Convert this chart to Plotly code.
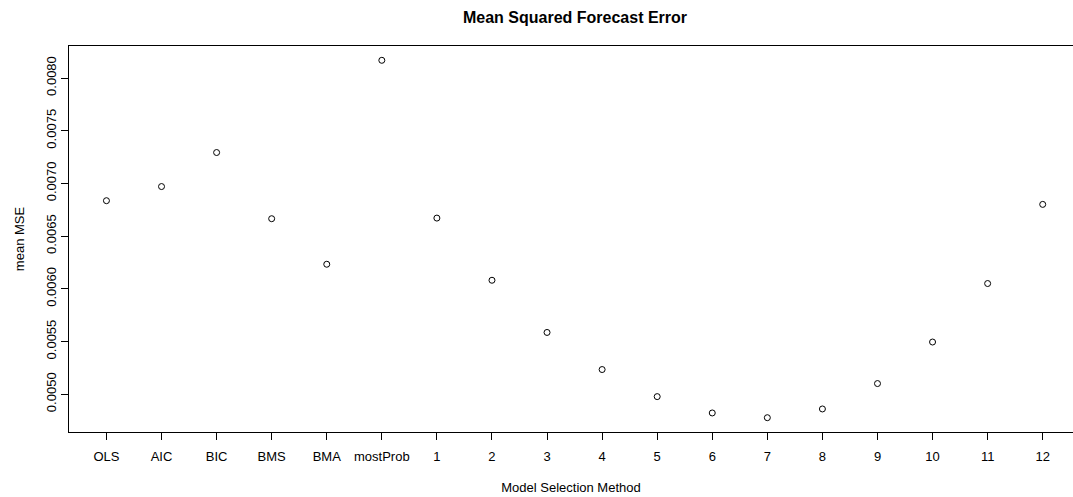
import plotly.graph_objects as go

# Model selection methods along the x axis
methods = ["OLS", "AIC", "BIC", "BMS", "BMA", "mostProb",
           "1", "2", "3", "4", "5", "6", "7", "8", "9", "10", "11", "12"]

# Mean squared forecast error for each method
mean_mse = [0.006836, 0.006970, 0.007293, 0.006665, 0.006233, 0.008168,
            0.006671, 0.006081, 0.005586, 0.005234, 0.004977, 0.004822,
            0.004777, 0.004860, 0.005101, 0.005495, 0.006050, 0.006801]

y_ticks = [0.0050, 0.0055, 0.0060, 0.0065, 0.0070, 0.0075, 0.0080]
y_tick_text = ["0.0050", "0.0055", "0.0060", "0.0065", "0.0070", "0.0075", "0.0080"]

positions = list(range(1, len(methods) + 1))

font_family = "Liberation Sans, Arial, Helvetica, sans-serif"

fig = go.Figure()
fig.add_trace(go.Scatter(
    x=positions,
    y=mean_mse,
    mode="markers",
    marker=dict(symbol="circle-open", size=6, color="black", line=dict(width=1, color="black")),
    showlegend=False,
    hoverinfo="x+y",
))

# R-style 4% padding around the data
ymin, ymax = min(mean_mse), max(mean_mse)
pad = 0.04 * (ymax - ymin)

fig.update_layout(
    width=1073,
    height=497,
    margin=dict(l=69, r=0, t=46, b=65),
    paper_bgcolor="white",
    plot_bgcolor="white",
    font=dict(family=font_family, size=13, color="black"),
    title=dict(
        text="<b>Mean Squared Forecast Error</b>",
        x=575 / 1073, xanchor="center",
        y=1 - 17 / 497, yanchor="middle",
        font=dict(size=16, family=font_family, color="black"),
    ),
    xaxis=dict(
        range=[0.32, 18.55],
        tickmode="array",
        tickvals=positions,
        ticktext=methods,
        ticks="outside",
        ticklen=7,
        tickwidth=1,
        tickcolor="black",
        ticklabelstandoff=5,
        showline=True,
        linecolor="black",
        linewidth=1,
        mirror=True,
        showgrid=False,
        zeroline=False,
        tickfont=dict(size=13),
        title=dict(text="Model Selection Method", font=dict(size=13), standoff=20),
    ),
    yaxis=dict(
        range=[ymin - pad, ymax + pad],
        tickmode="array",
        tickvals=y_ticks,
        ticktext=y_tick_text,
        tickangle=-90,
        ticks="outside",
        ticklen=7,
        tickwidth=1,
        tickcolor="black",
        showline=True,
        linecolor="black",
        linewidth=1,
        mirror=False,
        showgrid=False,
        zeroline=False,
        tickfont=dict(size=13),
        title=dict(text="mean MSE", font=dict(size=13), standoff=16),
    ),
)

fig.write_html("out.html")
